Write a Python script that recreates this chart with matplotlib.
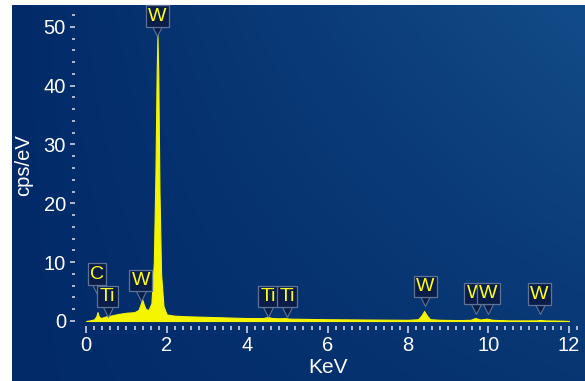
import numpy as np
import matplotlib
matplotlib.use("Agg")
import matplotlib.pyplot as plt
from matplotlib.transforms import offset_copy

plt.rcParams["font.family"] = ["Liberation Sans", "DejaVu Sans"]

# EDX-Spektrum
energie_kev = [0.0, 0.1, 0.2, 0.25, 0.28, 0.31, 0.36, 0.45, 0.5, 0.6, 0.8, 1.0, 1.2,
               1.3, 1.35, 1.39, 1.43, 1.48, 1.55, 1.62, 1.68, 1.72, 1.75, 1.77, 1.79,
               1.82, 1.86, 1.92, 2.0, 2.2, 2.5, 3.0, 3.5, 4.0, 4.4, 4.51, 4.62, 4.8,
               4.93, 5.05, 5.5, 6.0, 7.0, 8.0, 8.25, 8.33, 8.4, 8.47, 8.55, 8.8, 9.3,
               9.55, 9.67, 9.8, 9.96, 10.1, 10.5, 11.0, 11.2, 11.29, 11.4, 11.8, 12.0]
cps_ev = [0.0, 0.1, 0.3, 0.8, 1.5, 0.8, 0.5, 0.7, 0.8, 0.9, 1.2, 1.4, 1.5,
          1.9, 2.8, 3.7, 2.8, 2.0, 1.9, 3.0, 10.0, 25.0, 42.0, 48.6, 42.0,
          22.0, 8.0, 2.5, 1.1, 0.9, 0.8, 0.7, 0.6, 0.5, 0.5, 0.7, 0.5, 0.45,
          0.5, 0.4, 0.35, 0.3, 0.25, 0.2, 0.3, 0.9, 1.7, 0.9, 0.3, 0.2, 0.15,
          0.2, 0.5, 0.25, 0.4, 0.2, 0.1, 0.1, 0.1, 0.18, 0.1, 0.05, 0.0]

# Peak-Markierungen
element = ["C", "Ti", "W", "W", "Ti", "Ti", "W", "W", "W", "W"]
marker_kev = [0.27, 0.53, 1.36, 1.77, 4.52, 5.0, 8.43, 9.68, 10.0, 11.27]
marker_hoehe = [4.8, 1.0, 3.7, 48.6, 1.0, 1.0, 2.7, 1.5, 1.5, 1.35]

x_ticks = [0, 2, 4, 6, 8, 10, 12]
y_ticks = [0, 10, 20, 30, 40, 50]

fig = plt.figure(figsize=(5.85, 3.81), dpi=100)
fig.patch.set_facecolor("white")

# Hintergrund mit Verlauf
bg = fig.add_axes([12 / 585, 0, 1 - 12 / 585, 1 - 5 / 381], zorder=-10)
gx, gy = np.meshgrid(np.linspace(0, 1, 200), np.linspace(0, 1, 150))
g = gx * (0.35 + 0.65 * gy)
c0 = np.array([2, 42, 104]) / 255
c1 = np.array([18, 76, 136]) / 255
img = c0 + (c1 - c0) * g[..., None]
bg.imshow(img, origin="lower", aspect="auto", extent=[0, 1, 0, 1])
bg.axis("off")

ax = fig.add_axes([75 / 585, 55 / 381, 506 / 585, 321 / 381])
ax.patch.set_alpha(0)
ax.set_xlim(-0.28, 12.3)
ax.set_ylim(-0.85, 53.7)

gelb = "#f5f500"
ax.fill_between(energie_kev, 0, cps_ev, color=gelb, lw=0.8, edgecolor=gelb, zorder=2)

for s in ax.spines.values():
    s.set_visible(False)

tickfarbe = "#c9d2e3"
ax.set_xticks(x_ticks)
ax.set_yticks(y_ticks)
ax.set_xticks(np.arange(0, 12.4, 0.2), minor=True)
ax.set_yticks(np.arange(0, 53, 2), minor=True)
ax.tick_params(axis="both", which="both", colors=tickfarbe, labelcolor="white",
               labelsize=14.5, width=1.2)
ax.tick_params(axis="x", which="major", length=5, pad=2)
ax.tick_params(axis="x", which="minor", length=3)
ax.tick_params(axis="y", which="major", length=3.5, pad=3)
ax.tick_params(axis="y", which="minor", length=2.2)

ax.set_xlabel("KeV", color="white", fontsize=15)
ax.set_ylabel("cps/eV", color="white", fontsize=14.5)
ax.xaxis.set_label_coords(0.5, -0.1)
ax.yaxis.set_label_coords(-0.082, 0.5)

boxfarbe = "#0a1d48"
randfarbe = "#5f7396"
for name, xk, h in zip(element, marker_kev, marker_hoehe):
    tr_tip = offset_copy(ax.transData, fig, x=0, y=2.6, units="points")
    ax.plot(xk, h, marker="v", ms=7, mfc=boxfarbe, mec=randfarbe, mew=0.8,
            transform=tr_tip, zorder=4, clip_on=False)
    ax.annotate(name, xy=(xk, h), xytext=(0, 13.5), textcoords="offset points",
                ha="center", va="center", color="#ffff1a", fontsize=14,
                bbox=dict(boxstyle="square,pad=0.12", fc=boxfarbe, ec=randfarbe, lw=0.9),
                zorder=5, annotation_clip=False)

fig.savefig("out.png", dpi=100)
